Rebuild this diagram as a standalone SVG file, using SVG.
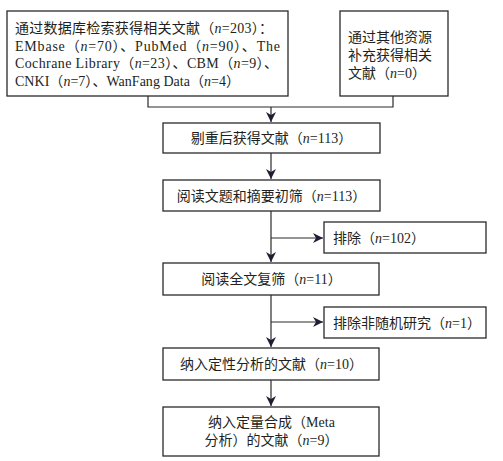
<svg xmlns="http://www.w3.org/2000/svg" width="503" height="461" viewBox="0 0 503 461">
<defs>
<marker id="ah" viewBox="0 0 10 10" refX="10" refY="5" markerWidth="10" markerHeight="10" markerUnits="userSpaceOnUse" orient="auto">
<path d="M0,0 L10,5 L0,10 L3,5 Z" fill="#1f1f33"/>
</marker>
<style>
.box{fill:#fff;stroke:#2a2a2a;stroke-width:1.3}
.t{font-family:"Liberation Serif","Noto Sans CJK SC",serif;font-size:14px;fill:#231f20}
.c{text-anchor:middle}
.ln{fill:none;stroke:#2a2a2a;stroke-width:1.2}
.i{font-style:italic}
</style>
</defs>
<rect width="503" height="461" fill="#fff"/>
<g id="connectors">
<polyline class="ln" points="148,96 148,107 393,107 393,96"/>
<line class="ln" x1="271" y1="107" x2="271" y2="122" marker-end="url(#ah)"/>
<line class="ln" x1="271" y1="153" x2="271" y2="179" marker-end="url(#ah)"/>
<line class="ln" x1="271" y1="211" x2="271" y2="262" marker-end="url(#ah)"/>
<line class="ln" x1="271" y1="238" x2="323" y2="238" marker-end="url(#ah)"/>
<line class="ln" x1="271" y1="295" x2="271" y2="347" marker-end="url(#ah)"/>
<line class="ln" x1="271" y1="322" x2="323" y2="322" marker-end="url(#ah)"/>
<line class="ln" x1="271" y1="380" x2="271" y2="406" marker-end="url(#ah)"/>
</g>
<g id="n1">
<rect class="box" x="7" y="11" width="281" height="85"/>
<text class="t" x="15" y="33" textLength="258" lengthAdjust="spacing">通过数据库检索获得相关文献（<tspan class="i">n</tspan>=203）：</text>
<text class="t" x="15" y="50.5" textLength="265" lengthAdjust="spacing">EMbase（<tspan class="i">n</tspan>=70）、PubMed（<tspan class="i">n</tspan>=90）、The</text>
<text class="t" x="15" y="68" textLength="263" lengthAdjust="spacing">Cochrane Library（<tspan class="i">n</tspan>=23）、CBM（<tspan class="i">n</tspan>=9）、</text>
<text class="t" x="15" y="86" textLength="225" lengthAdjust="spacing">CNKI（<tspan class="i">n</tspan>=7）、WanFang Data（<tspan class="i">n</tspan>=4）</text>
</g>
<g id="n2">
<rect class="box" x="340" y="11" width="108" height="85"/>
<text class="t" x="348" y="42">通过其他资源</text>
<text class="t" x="348" y="60">补充获得相关</text>
<text class="t" x="348" y="78">文献（<tspan class="i">n</tspan>=0）</text>
</g>
<g id="n3">
<rect class="box" x="163" y="123" width="217" height="30"/>
<text class="t c" x="271.5" y="143">剔重后获得文献（<tspan class="i">n</tspan>=113）</text>
</g>
<g id="n4">
<rect class="box" x="163" y="180" width="217" height="31"/>
<text class="t c" x="271.5" y="200.5">阅读文题和摘要初筛（<tspan class="i">n</tspan>=113）</text>
</g>
<g id="n5">
<rect class="box" x="324" y="222" width="162" height="31"/>
<text class="t" x="333" y="243">排除（<tspan class="i">n</tspan>=102）</text>
</g>
<g id="n6">
<rect class="box" x="163" y="263" width="216" height="32"/>
<text class="t c" x="271.5" y="284">阅读全文复筛（<tspan class="i">n</tspan>=11）</text>
</g>
<g id="n7">
<rect class="box" x="324" y="307" width="162" height="31"/>
<text class="t" x="333" y="327.5">排除非随机研究（<tspan class="i">n</tspan>=1）</text>
</g>
<g id="n8">
<rect class="box" x="163" y="348" width="216" height="32"/>
<text class="t c" x="271.5" y="369">纳入定性分析的文献（<tspan class="i">n</tspan>=10）</text>
</g>
<g id="n9">
<rect class="box" x="163" y="407" width="216" height="49"/>
<text class="t c" x="271.5" y="427">纳入定量合成（Meta</text>
<text class="t c" x="271.5" y="445">分析）的文献（<tspan class="i">n</tspan>=9）</text>
</g>
</svg>
